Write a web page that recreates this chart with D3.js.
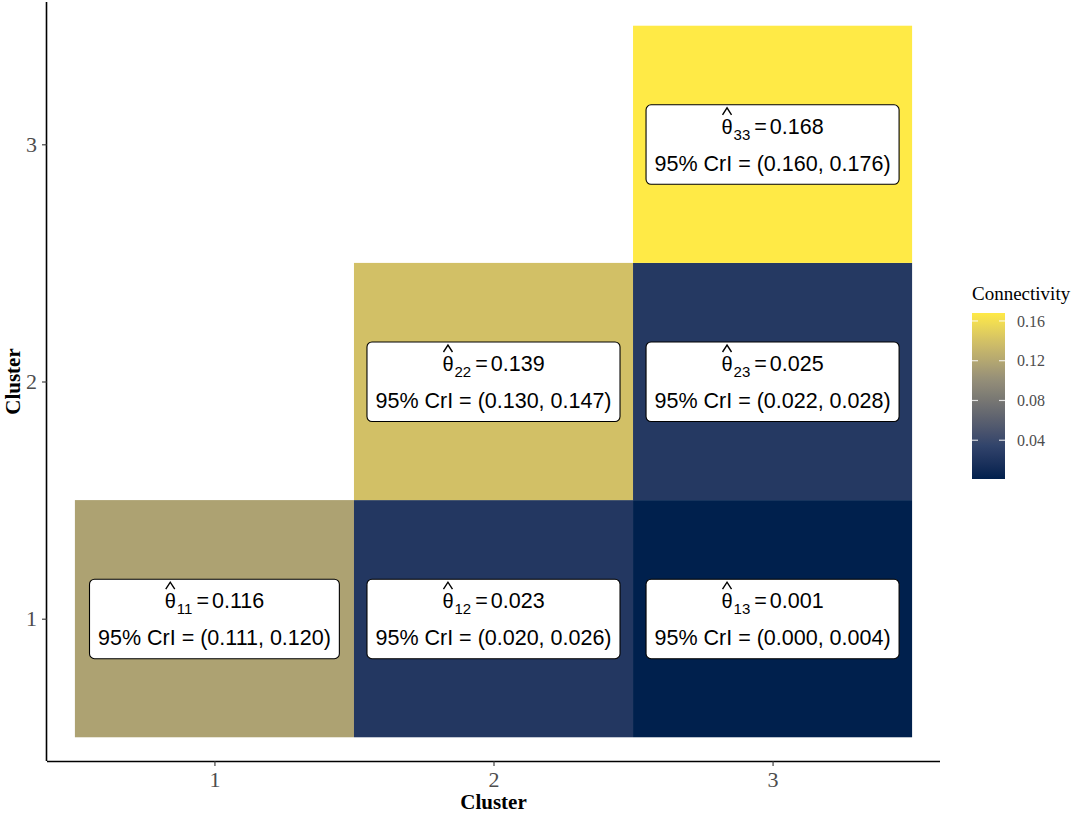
<!DOCTYPE html>
<html>
<head>
<meta charset="utf-8">
<script src="https://cdn.jsdelivr.net/npm/d3@7"></script>
<style>
  html, body { margin: 0; padding: 0; background: #ffffff; }
  svg { display: block; }
</style>
</head>
<body>
<svg id="chart" width="1084" height="813"></svg>
<script>
// ---- data ----
const clusterTicks = [1, 2, 3];
const cellX = [1, 2, 3, 2, 3, 3];
const cellY = [1, 1, 1, 2, 2, 3];
const estimates = [0.116, 0.023, 0.001, 0.139, 0.025, 0.168];
const lowerCrI = [0.111, 0.020, 0.000, 0.130, 0.022, 0.160];
const upperCrI = [0.120, 0.026, 0.004, 0.147, 0.028, 0.176];
const legendTicks = [0.04, 0.08, 0.12, 0.16];
// cividis palette (6 colours), interpolated in Lab space like ggplot's viridis_c
const paletteColors = ["#00204D", "#31446B", "#666970", "#958F78", "#CBBA69", "#FFEA46"];

const cells = cellX.map((x, i) => ({
  x, y: cellY[i], est: estimates[i], lo: lowerCrI[i], hi: upperCrI[i]
}));

const svg = d3.select("#chart");
const serif = "'Liberation Serif', 'Times New Roman', serif";
const sans = "'Liberation Sans', Arial, sans-serif";

const panel = { left: 47, right: 940, top: 2, bottom: 761 };
const x = d3.scaleLinear().domain([0.4, 3.6]).range([panel.left, panel.right]);
const y = d3.scaleLinear().domain([0.4, 3.6]).range([panel.bottom, panel.top]);

const interp = d3.piecewise(d3.interpolateLab, paletteColors);
const color = d3.scaleSequential(interp).domain(d3.extent(estimates));

// ---- tiles ----
svg.append("g").selectAll("rect").data(cells).join("rect")
  .attr("x", d => x(d.x - 0.5))
  .attr("y", d => y(d.y + 0.5))
  .attr("width", d => x(d.x + 0.5) - x(d.x - 0.5))
  .attr("height", d => y(d.y - 0.5) - y(d.y + 0.5))
  .attr("fill", d => color(d.est));

// ---- labels ----
const fmt = d3.format(".3f");
const FS = 21.5;
const labelG = svg.append("g");
cells.forEach(d => {
  const cx = x(d.x), cy = y(d.y);
  const g = labelG.append("g").attr("transform", `translate(${cx},${cy})`);
  const box = g.append("rect");
  const b1 = -10.5, b2 = 26.5;
  const theta = g.append("text").attr("font-family", sans).attr("font-size", 20).attr("y", b1).text("θ");
  const sub = g.append("text").attr("font-family", sans).attr("font-size", 15).attr("y", b1 + 6).text(`${d.y}${d.x}`);
  const eq = g.append("text").attr("font-family", sans).attr("font-size", FS).attr("y", b1).text("=");
  const val = g.append("text").attr("font-family", sans).attr("font-size", FS).attr("y", b1).text(fmt(d.est));
  const wT = theta.node().getComputedTextLength();
  const wS = sub.node().getComputedTextLength();
  const wE = eq.node().getComputedTextLength();
  const wV = val.node().getComputedTextLength();
  const gap1 = 1, gap2 = 4, gap3 = 3;
  const total = wT + gap1 + wS + gap2 + wE + gap3 + wV;
  let cur = -total / 2;
  theta.attr("x", cur);
  const thetaMid = cur + wT / 2;
  cur += wT + gap1;
  sub.attr("x", cur); cur += wS + gap2;
  eq.attr("x", cur); cur += wE + gap3;
  val.attr("x", cur);
  // hat accent
  g.append("path")
    .attr("d", `M${thetaMid - 4.5},${b1 - 19} L${thetaMid},${b1 - 26} L${thetaMid + 4.5},${b1 - 19}`)
    .attr("fill", "none").attr("stroke", "#000").attr("stroke-width", 1.4);
  const line2 = g.append("text").attr("font-family", sans).attr("font-size", FS)
    .attr("text-anchor", "middle").attr("x", 0).attr("y", b2)
    .text(`95% CrI = (${fmt(d.lo)}, ${fmt(d.hi)})`);
  const w2 = line2.node().getComputedTextLength();
  const bw = Math.max(w2, total) + 17;
  box.attr("x", -bw / 2).attr("y", -39.5).attr("width", bw).attr("height", 79.5)
    .attr("rx", 5).attr("ry", 5)
    .attr("fill", "#ffffff").attr("stroke", "#000000").attr("stroke-width", 1.1);
});

// ---- axes ----
const xAxis = svg.append("g").attr("transform", `translate(0,${panel.bottom})`)
  .call(d3.axisBottom(x).tickValues(clusterTicks).tickFormat(d3.format("d")).tickSize(5).tickSizeOuter(0).tickPadding(5));
const yAxis = svg.append("g").attr("transform", `translate(${panel.left},0)`)
  .call(d3.axisLeft(y).tickValues(clusterTicks).tickFormat(d3.format("d")).tickSize(5).tickSizeOuter(0).tickPadding(5));
[xAxis, yAxis].forEach(a => {
  a.select(".domain").attr("stroke", "#000").attr("stroke-width", 1.6);
  a.selectAll(".tick line").attr("stroke", "#333").attr("stroke-width", 1.1);
  a.selectAll(".tick text").attr("font-family", serif).attr("font-size", 22).attr("fill", "#4d4d4d");
});
xAxis.select(".domain").attr("d", `M${panel.left},0.5H${panel.right}`);
yAxis.select(".domain").attr("d", `M-0.5,${panel.bottom}V${panel.top}`);

svg.append("text").attr("font-family", serif).attr("font-size", 21).attr("font-weight", "bold")
  .attr("text-anchor", "middle").attr("x", (panel.left + panel.right) / 2).attr("y", 809).text("Cluster");
svg.append("text").attr("font-family", serif).attr("font-size", 21).attr("font-weight", "bold")
  .attr("text-anchor", "middle").attr("transform", `translate(20,${(panel.top + panel.bottom) / 2}) rotate(-90)`).text("Cluster");

// ---- legend ----
const lg = { x: 972, w: 33, top: 313, bottom: 479 };
const ly = d3.scaleLinear().domain(color.domain()).range([lg.bottom, lg.top]);
const defs = svg.append("defs");
const grad = defs.append("linearGradient").attr("id", "cbar")
  .attr("x1", 0).attr("y1", 1).attr("x2", 0).attr("y2", 0);
d3.range(0, 1.0001, 0.04).forEach(t => {
  grad.append("stop").attr("offset", t).attr("stop-color", interp(t));
});
svg.append("rect").attr("x", lg.x).attr("y", lg.top).attr("width", lg.w).attr("height", lg.bottom - lg.top)
  .attr("fill", "url(#cbar)");
const lt = svg.append("g");
legendTicks.forEach(v => {
  const yy = ly(v);
  lt.append("line").attr("x1", lg.x).attr("x2", lg.x + 6).attr("y1", yy).attr("y2", yy)
    .attr("stroke", "#ffffff").attr("stroke-width", 1.2).attr("opacity", 0.8);
  lt.append("line").attr("x1", lg.x + lg.w - 6).attr("x2", lg.x + lg.w).attr("y1", yy).attr("y2", yy)
    .attr("stroke", "#ffffff").attr("stroke-width", 1.2).attr("opacity", 0.8);
  lt.append("text").attr("font-family", serif).attr("font-size", 16).attr("fill", "#4d4d4d")
    .attr("x", lg.x + lg.w + 12).attr("y", yy).attr("dy", "0.35em").text(d3.format(".2f")(v));
});
svg.append("text").attr("font-family", serif).attr("font-size", 19).attr("fill", "#000")
  .attr("x", lg.x).attr("y", 300).text("Connectivity");
</script>
</body>
</html>
